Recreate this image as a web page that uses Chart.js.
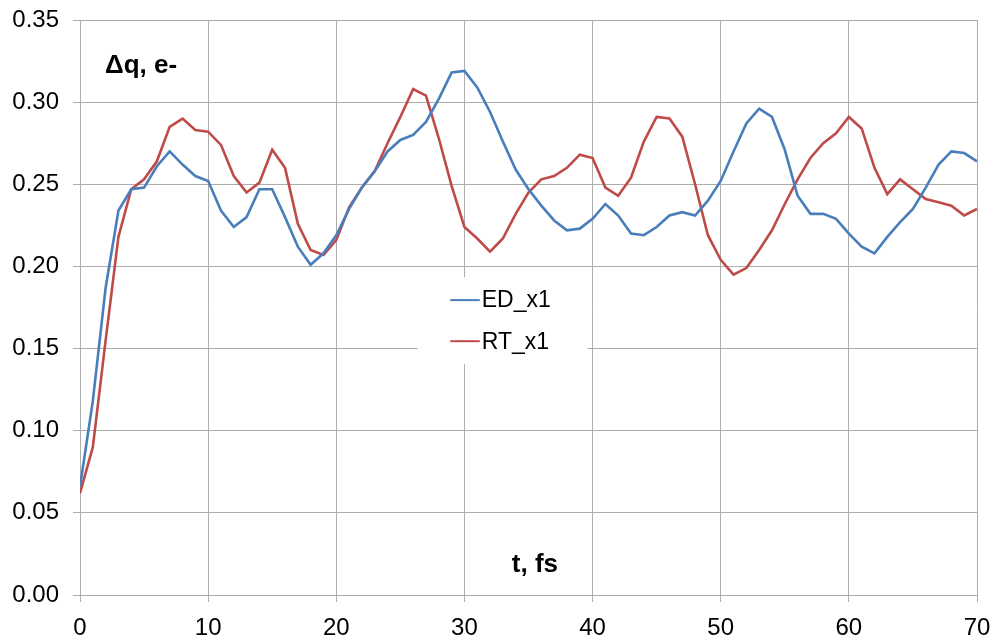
<!DOCTYPE html>
<html>
<head>
<meta charset="utf-8">
<script src="https://cdn.jsdelivr.net/npm/chart.js@4/dist/chart.umd.min.js"></script>
<style>
  html, body { margin: 0; padding: 0; background: #fff; }
  #wrap { width: 995px; height: 644px; }
</style>
</head>
<body>
<div id="wrap"><canvas id="chart" width="995" height="644"></canvas></div>
<script>
// time axis, fs
const times = [0, 1, 2, 3, 4, 5, 6, 7, 8, 9, 10, 11, 12, 13, 14, 15, 16, 17, 18, 19, 20,
  21, 22, 23, 24, 25, 26, 27, 28, 29, 30, 31, 32, 33, 34, 35, 36, 37, 38, 39, 40,
  41, 42, 43, 44, 45, 46, 47, 48, 49, 50, 51, 52, 53, 54, 55, 56, 57, 58, 59, 60,
  61, 62, 63, 64, 65, 66, 67, 68, 69, 70];

const edX1 = [0.066, 0.118, 0.187, 0.234, 0.247, 0.248, 0.261, 0.270, 0.262, 0.255, 0.252,
  0.234, 0.224, 0.230, 0.247, 0.247, 0.230, 0.212, 0.201, 0.208, 0.219,
  0.235, 0.248, 0.258, 0.270, 0.277, 0.280, 0.288, 0.302, 0.318, 0.319,
  0.309, 0.294, 0.276, 0.259, 0.247, 0.237, 0.228, 0.222, 0.223, 0.229,
  0.238, 0.231, 0.220, 0.219, 0.224, 0.231, 0.233, 0.231, 0.240, 0.252,
  0.270, 0.287, 0.296, 0.291, 0.271, 0.243, 0.232, 0.232, 0.229, 0.220,
  0.212, 0.208, 0.218, 0.227, 0.235, 0.248, 0.262, 0.270, 0.269, 0.264];

const rtX1 = [0.062, 0.090, 0.155, 0.218, 0.247, 0.253, 0.264, 0.285, 0.290, 0.283, 0.282,
  0.274, 0.255, 0.245, 0.251, 0.271, 0.260, 0.226, 0.210, 0.207, 0.216,
  0.236, 0.248, 0.258, 0.275, 0.291, 0.308, 0.304, 0.278, 0.249, 0.224,
  0.217, 0.209, 0.217, 0.232, 0.245, 0.253, 0.255, 0.260, 0.268, 0.266,
  0.248, 0.243, 0.254, 0.276, 0.291, 0.290, 0.279, 0.250, 0.219, 0.204,
  0.195, 0.199, 0.210, 0.222, 0.238, 0.253, 0.266, 0.275, 0.281, 0.291,
  0.284, 0.260, 0.244, 0.253, 0.247, 0.241, 0.239, 0.237, 0.231, 0.235];

const seriesNames = ['ED_x1', 'RT_x1'];
const seriesColors = ['#4a7ebb', '#be4b48'];
const yTitle = 'Δq, e-';
const xTitle = 't, fs';

const font = 'Liberation Sans, Arial, sans-serif';
const gridColor = '#adadad';

function toPoints(ys) {
  return times.map((t, i) => ({ x: t, y: ys[i] }));
}

// axis titles drawn inside the plot, legend box in the middle
const insideLabels = {
  id: 'insideLabels',
  afterDatasetsDraw(chart) {
    const { ctx, scales: { x, y } } = chart;
    ctx.save();
    ctx.fillStyle = '#000';
    ctx.font = 'bold 26px ' + font;
    ctx.textBaseline = 'alphabetic';
    ctx.fillText(yTitle, x.getPixelForValue(1.95), y.getPixelForValue(0.318));
    ctx.fillText(xTitle, x.getPixelForValue(33.7), y.getPixelForValue(0.014));

    // legend
    const left = x.getPixelForValue(26.35);
    const right = x.getPixelForValue(39.6);
    const top = y.getPixelForValue(0.1935);
    const bottom = y.getPixelForValue(0.1405);
    ctx.fillStyle = '#fff';
    ctx.fillRect(left, top, right - left, bottom - top);
    ctx.font = '23px ' + font;
    ctx.textBaseline = 'middle';
    const rows = [y.getPixelForValue(0.1795), y.getPixelForValue(0.1545)];
    seriesNames.forEach((name, i) => {
      const ry = rows[i];
      ctx.strokeStyle = seriesColors[i];
      ctx.lineWidth = 2;
      ctx.beginPath();
      ctx.moveTo(x.getPixelForValue(28.9), ry);
      ctx.lineTo(x.getPixelForValue(31.2), ry);
      ctx.stroke();
      ctx.fillStyle = '#000';
      ctx.fillText(name, x.getPixelForValue(31.35), ry + 1);
    });
    ctx.restore();
  }
};

const ctx = document.getElementById('chart').getContext('2d');
new Chart(ctx, {
  type: 'line',
  data: {
    datasets: seriesNames.map((name, i) => ({
      label: name,
      data: toPoints(i === 0 ? edX1 : rtX1),
      borderColor: seriesColors[i],
      backgroundColor: seriesColors[i],
      borderWidth: 2.6,
      pointRadius: 0,
      tension: 0,
      fill: false
    }))
  },
  options: {
    responsive: false,
    animation: false,
    layout: { padding: { top: 20, right: 18, left: 0, bottom: 0 } },
    plugins: {
      legend: { display: false },
      tooltip: { enabled: false }
    },
    scales: {
      x: {
        type: 'linear',
        min: 0,
        max: 70,
        ticks: {
          stepSize: 10,
          color: '#000',
          font: { family: font, size: 24 },
          padding: 12,
          maxRotation: 0
        },
        grid: { color: gridColor, lineWidth: 1, tickLength: 7 },
        border: { color: gridColor },
        afterFit(scale) {
          scale.height = 49;
          scale.paddingLeft = 0;
          scale.paddingRight = 0;
        }
      },
      y: {
        min: 0,
        max: 0.35,
        ticks: {
          stepSize: 0.05,
          color: '#000',
          font: { family: font, size: 24 },
          padding: 14,
          callback: (v) => v.toFixed(2)
        },
        grid: { color: gridColor, lineWidth: 1, tickLength: 7 },
        border: { color: gridColor },
        afterFit(scale) {
          scale.width = 80;
          scale.paddingTop = 0;
          scale.paddingBottom = 0;
        }
      }
    }
  },
  plugins: [insideLabels]
});
</script>
</body>
</html>
